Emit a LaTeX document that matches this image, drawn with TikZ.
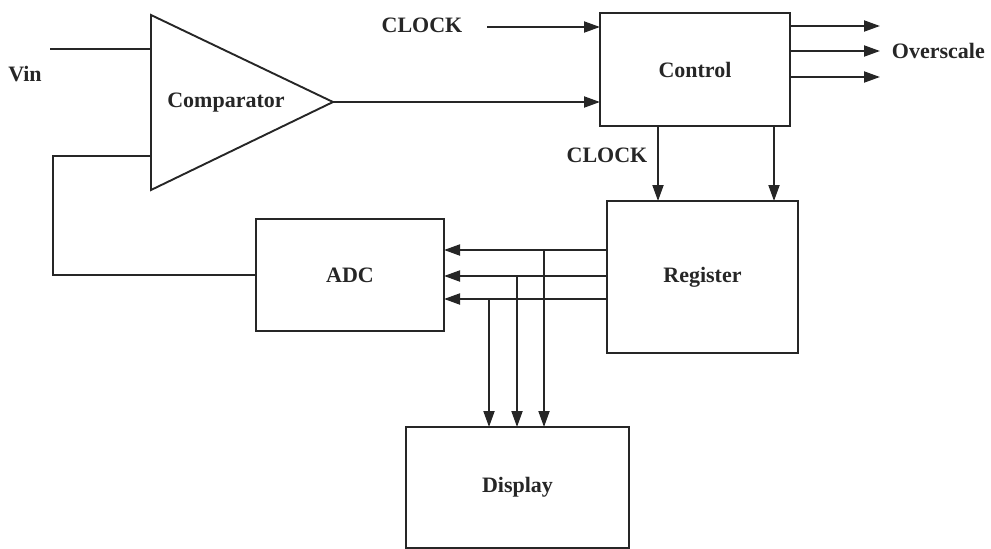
\documentclass[tikz,border=0pt]{standalone}
\usepackage{fontspec}
\setmainfont{Liberation Serif}
\usetikzlibrary{arrows.meta}
\definecolor{ink}{HTML}{262626}
\begin{document}
\begin{tikzpicture}[x=1pt,y=-1pt,
  line width=1.9pt, draw=ink,
  lbl/.style={text=ink, inner sep=0pt, font=\bfseries\fontsize{22}{26}\selectfont},
  blk/.style={draw=ink, line width=1.9pt, outer sep=0pt, inner sep=0pt, text=ink,
              font=\bfseries\fontsize{22}{26}\selectfont},
  arr/.style={-{Triangle[length=16pt,width=11pt]}}]
\useasboundingbox (0,0) rectangle (991,549);

% blocks
\node[blk, minimum width=190, minimum height=113] (ctrl) at (695,69.5) {Control};
\node[blk, minimum width=191, minimum height=152] (reg)  at (702.5,277) {Register};
\node[blk, minimum width=188, minimum height=112] (adc)  at (350,275) {ADC};
\node[blk, minimum width=223, minimum height=121] (disp) at (517.5,487.5) {Display};

% comparator triangle
\coordinate (tA) at (151,15);
\coordinate (cmpOut) at (333,102);
\coordinate (tB) at (151,190);
\draw[line join=miter] (tA) -- (cmpOut) -- (tB) -- cycle;
\node[lbl] (cmp) at (226,103) {Comparator};

% labels
\node[lbl] (vin) at (25,74) {Vin};
\node[lbl] (clk1) at (422,25) {CLOCK};
\node[lbl] (clk2) at (607,155) {CLOCK};
\node[lbl, anchor=west] (ovs) at (891,51) {Overscale};

% coordinates
\coordinate (vinS) at (50,49);
\coordinate (cmpIn1) at (151,49);
\coordinate (cmpIn2) at (151,156);
\coordinate (fbX) at (53,156);
\coordinate (clkS) at (487,27);
\coordinate (o1) at (880,26);
\coordinate (o2) at (880,51);
\coordinate (o3) at (880,77);
\coordinate (c1) at (658,0);
\coordinate (c2) at (774,0);
\coordinate (b1) at (544,250);
\coordinate (b2) at (517,276);
\coordinate (b3) at (489,299);

% connectors
\draw (vinS) -- (cmpIn1);
\draw (cmpIn2) -- (fbX) |- (adc.west);
\draw[arr] (cmpOut) -- (ctrl.west |- cmpOut);
\draw[arr] (clkS) -- (ctrl.west |- clkS);
\draw[arr] (ctrl.east |- o1) -- (o1);
\draw[arr] (ctrl.east |- o2) -- (o2);
\draw[arr] (ctrl.east |- o3) -- (o3);
\draw[arr] (ctrl.south -| c1) -- (reg.north -| c1);
\draw[arr] (ctrl.south -| c2) -- (reg.north -| c2);
\draw[arr] (reg.west |- b1) -- (adc.east |- b1);
\draw[arr] (reg.west |- b2) -- (adc.east |- b2);
\draw[arr] (reg.west |- b3) -- (adc.east |- b3);
\draw[arr] (b1) -- (disp.north -| b1);
\draw[arr] (b2) -- (disp.north -| b2);
\draw[arr] (b3) -- (disp.north -| b3);
\end{tikzpicture}
\end{document}
